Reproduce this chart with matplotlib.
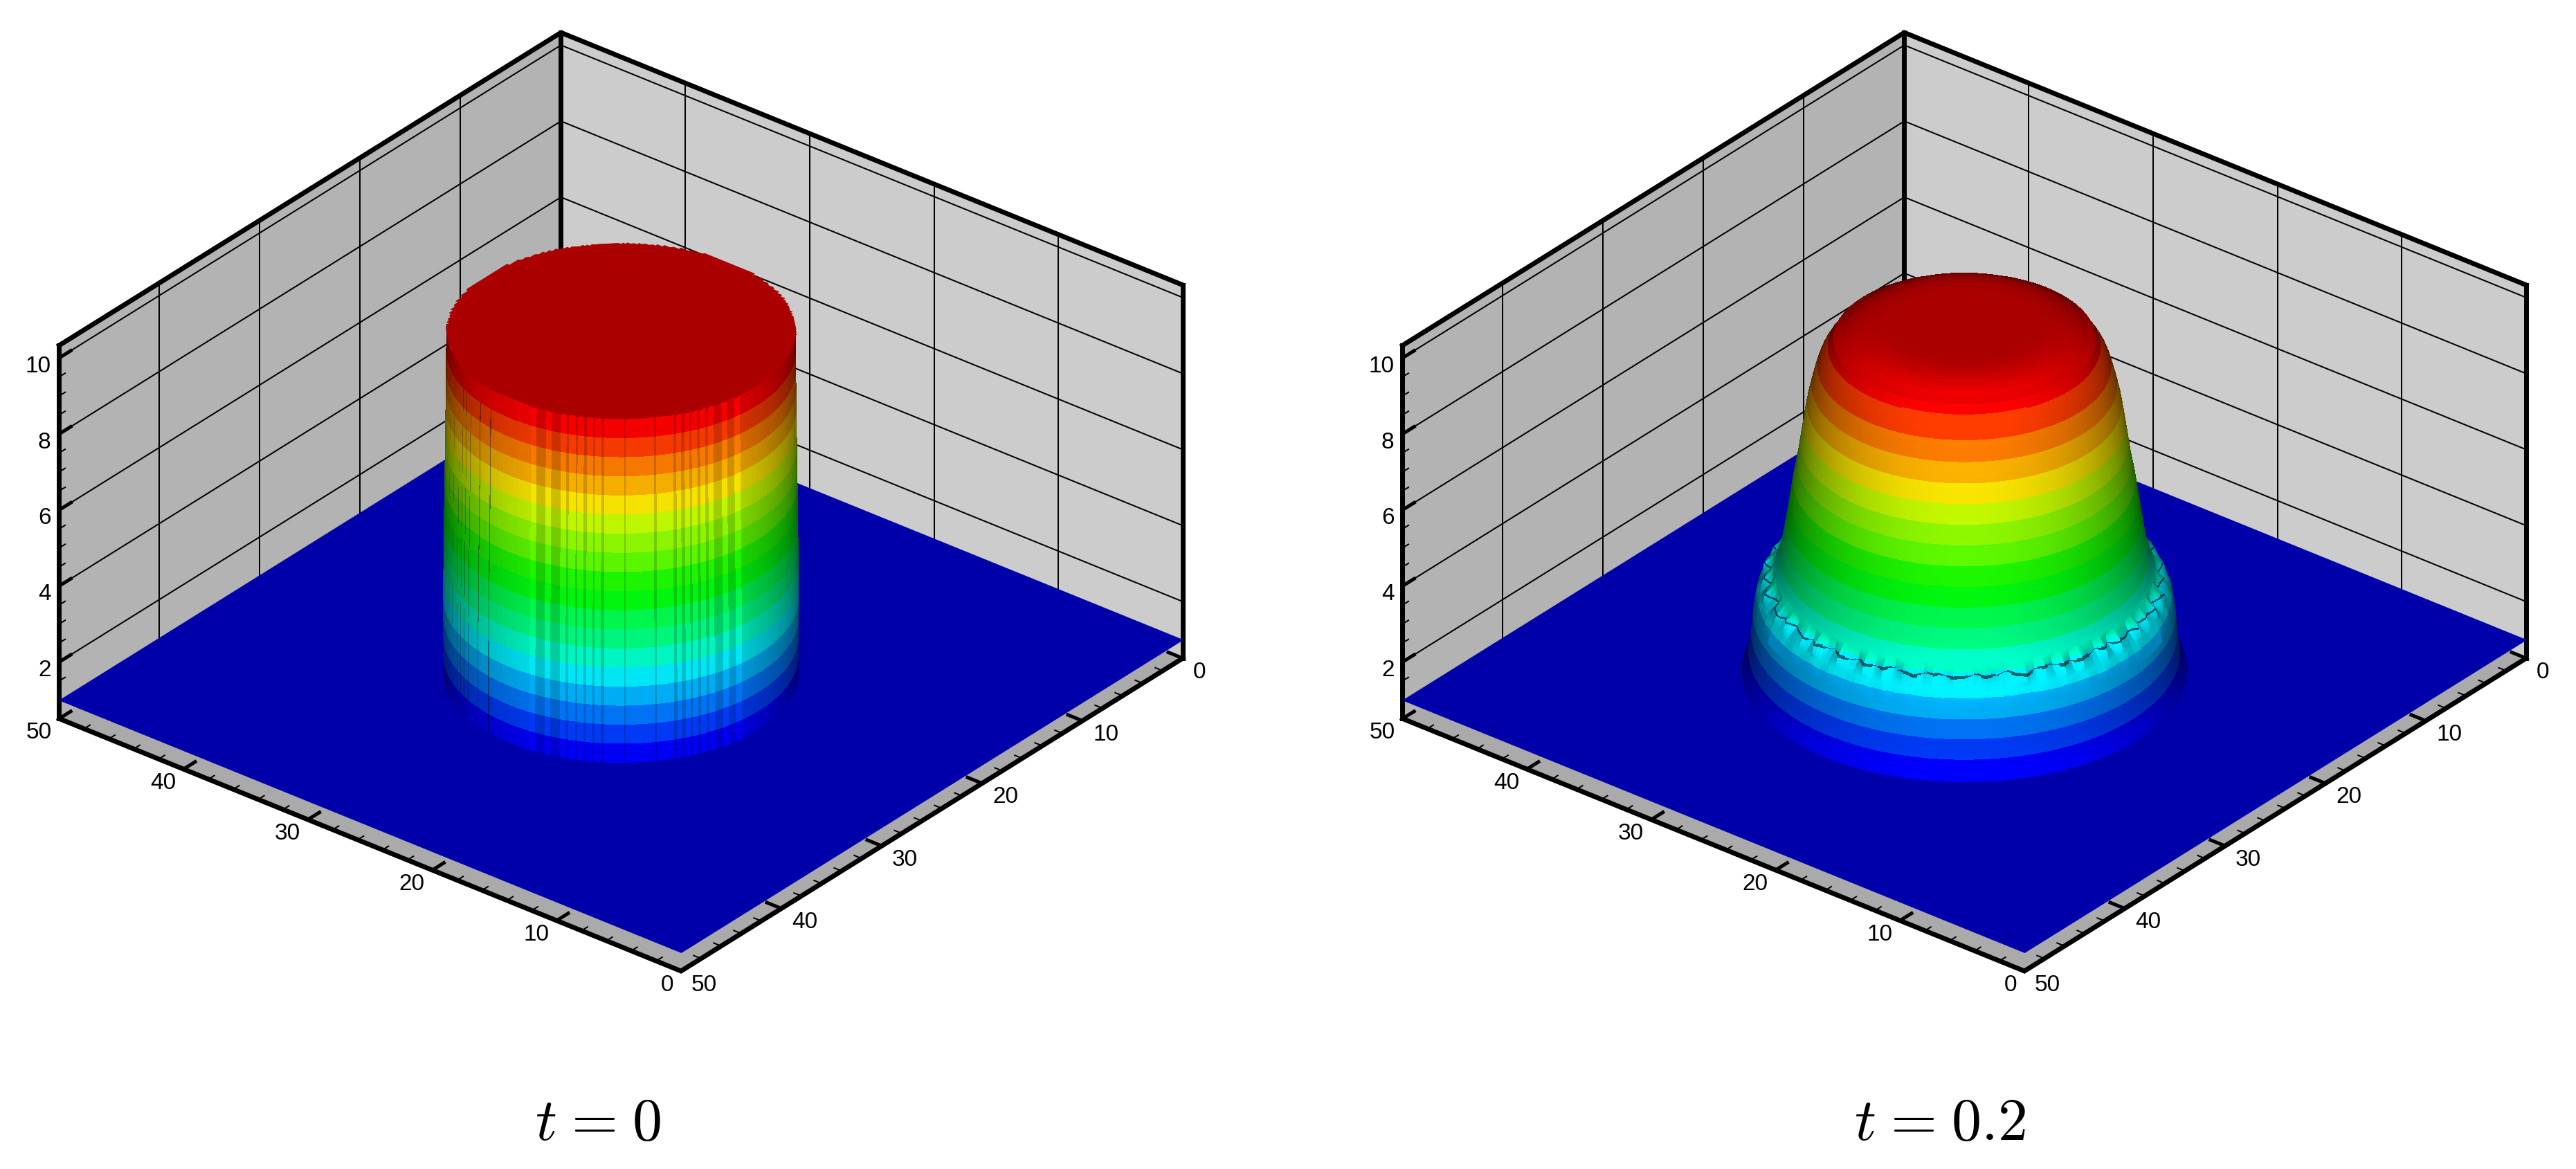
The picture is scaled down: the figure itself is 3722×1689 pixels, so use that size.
import matplotlib
matplotlib.use('Agg')
import matplotlib.pyplot as plt
import numpy as np
from mpl_toolkits.mplot3d import proj3d
from mpl_toolkits.mplot3d.art3d import Poly3DCollection

plt.rcParams['font.family'] = ['Liberation Sans', 'DejaVu Sans']
plt.rcParams['mathtext.fontset'] = 'cm'

W, H = 3723, 1689

# Axis ranges and ticks
X_MAJOR = [0, 10, 20, 30, 40, 50]
X_MINOR = [2, 4, 6, 8, 12, 14, 16, 18, 22, 24, 26, 28, 32, 34, 36, 38, 42, 44, 46, 48]
Z_MAJOR = [2, 4, 6, 8, 10]
Z_MINOR = [1.5, 2.5, 3, 3.5, 4.5, 5, 5.5, 6.5, 7, 7.5, 8.5, 9, 9.5]
Z_MIN, Z_MAX = 0.51, 10.33

# Colour bands from z=1 up to z=10, every 0.5
BAND_COLORS = [
    (0, 0, 255), (0, 60, 255), (0, 120, 255), (0, 180, 255), (0, 240, 255), (0, 255, 200),
    (0, 255, 130), (0, 255, 80), (0, 255, 15), (30, 255, 0), (95, 255, 0), (145, 255, 0),
    (200, 255, 0), (255, 235, 0), (255, 180, 0), (255, 125, 0), (255, 60, 0), (255, 0, 0),
]
BAND_Z = [1 + 0.5 * i for i in range(19)]

# t = 0: radius of the column against height
T0_Z = [1, 3, 5, 7, 9, 10]
T0_R = [11.1, 11.1, 11.05, 10.98, 10.92, 10.9]
T0_DROP = 0.08  # the column sits a little lower than the band levels
# lit strips on the front of the column, degrees from the viewer direction
STRIPE_START = [-30.8, -25.3, -20.0, -17.2, -14.2, -11.1, -8.4, -5.3, 1.3, 11.5, 18.3, 21.2, 23.7, 26.7, 29.7, 35.0, 40.2]
STRIPE_END = [-28.7, -23.3, -18.0, -14.8, -12.1, -9.0, -6.3, 0.8, 10.7, 17.2, 19.9, 22.9, 25.7, 28.6, 31.7, 37.2, 42.8]
# thin dark seams on the left of the column
SEAM_ANGLE = [-76.5, -71.6, -67.0, -64.3, -61.8, -59.0, -53.4, -48.0]
SEAM_ZLOW = [1.5, 2.0, 1.0, 1.5, 1.0, 1.5, 1.0, 1.0]
SEAM_ZHIGH = [9.5, 9.5, 7.5, 9.5, 9.5, 9.0, 9.5, 9.5]

# t = 0.2: radius of the dome against height
T2_Z = [1.0, 1.1, 1.5, 2, 2.5, 3, 3.3, 3.6, 4, 4.5, 5, 5.5, 6, 6.5, 7, 7.5, 8, 8.5, 9, 9.4, 9.7]
T2_R = [14.0, 13.75, 13.45, 13.3, 13.2, 13.0, 12.55, 11.9, 11.55, 11.3, 11.1, 10.9, 10.7, 10.45, 10.25, 10.05, 9.85, 9.55, 9.2, 8.75, 8.05]
T2_CAP_R = [7.7, 7.35, 7.0, 6.65, 6.3, 5.95, 5.6, 5.25, 4.9, 4.5, 2.5, 0.05]
T2_CAP_Z = [9.8, 9.88, 9.94, 9.986, 10.02, 10.045, 10.063, 10.074, 10.08, 10.085, 10.085, 10.085]
# ragged front where the shelf meets the dome, one value every 3 degrees (half a turn)
RING_WOBBLE = [
    0.10, -0.22, 0.28, -0.05, -0.32, 0.18, 0.34, -0.12, 0.05, -0.28, 0.22, -0.18, 0.30, 0.02, -0.25,
    0.15, -0.34, 0.26, 0.08, -0.14, 0.32, -0.24, 0.12, -0.06, 0.24, -0.30, 0.16, 0.36, -0.20, -0.02,
    0.20, -0.26, 0.06, 0.30, -0.16, -0.36, 0.14, 0.26, -0.08, 0.22, -0.30, 0.04, 0.18, -0.22, 0.34,
    -0.12, -0.28, 0.24, 0.02, -0.18, 0.30, -0.10, 0.20, -0.32, 0.12, 0.28, -0.24, 0.08, -0.16, 0.22,
]

ELEV, AZIM = 30.2, 128.9
Z_PHYS = 2.75  # one z unit against one x unit on screen
e, a = np.radians(ELEV), np.radians(AZIM)
VIEW = np.array([np.cos(a), np.sin(a)])
RIGHT = np.array([-np.sin(a), np.cos(a)])
LIGHT = np.array([np.cos(e) * VIEW[0], np.cos(e) * VIEW[1], np.sin(e)])


def rgb(color, shade):
    return tuple(np.clip(np.array(color) / 255.0 * shade, 0, 1)) + (1.0,)


def polar(r, phi, z):
    p = np.radians(phi)
    x = 25 + r * (np.cos(p) * VIEW[0] + np.sin(p) * RIGHT[0])
    y = 25 + r * (np.cos(p) * VIEW[1] + np.sin(p) * RIGHT[1])
    return x, y, z


def add_polys(ax, verts, colors, zorder):
    pc = Poly3DCollection(verts, facecolors=colors, edgecolors=colors, linewidths=0.5, antialiased=False, zsort='average')
    pc.set_zorder(zorder)
    ax.add_collection3d(pc)


def fit_axes(ax, front_px, right_px):
    # move the 3d axes so that the two lower corners land on the wanted pixels
    def corner(x, y, z):
        xp, yp, _ = proj3d.proj_transform(x, y, z, ax.get_proj())
        return ax.transData.transform((xp, yp))
    target_f = np.array([front_px[0], H - front_px[1]], float)
    target_r = np.array([right_px[0], H - right_px[1]], float)
    side = 1800.0
    left, bottom = front_px[0] - side / 2, H - front_px[1]
    for _ in range(3):
        ax.set_position([left / W, bottom / H, side / W, side / H])
        ax.apply_aspect()
        f, r = corner(0, 50, Z_MIN), corner(0, 0, Z_MIN)
        side *= np.linalg.norm(target_r - target_f) / np.linalg.norm(r - f)
        ax.set_position([left / W, bottom / H, side / W, side / H])
        ax.apply_aspect()
        f = corner(0, 50, Z_MIN)
        left += target_f[0] - f[0]
        bottom += target_f[1] - f[1]
    ax.set_position([left / W, bottom / H, side / W, side / H])


def draw_frame(ax):
    x0, x1 = 0, 50
    zb, zt = Z_MIN, Z_MAX
    add_polys(ax, [[(x1, x0, zb), (x1, x1, zb), (x1, x1, zt), (x1, x0, zt)]], ['#B3B3B3'], 1)
    add_polys(ax, [[(x0, x0, zb), (x1, x0, zb), (x1, x0, zt), (x0, x0, zt)]], ['#CCCCCC'], 1)
    add_polys(ax, [[(x0, x0, zb), (x1, x0, zb), (x1, x1, zb), (x0, x1, zb)]], ['#AAAAAA'], 1)
    grid = dict(color='black', lw=1.45, zorder=2)
    for t in X_MAJOR[1:-1]:
        ax.plot([x1, x1], [t, t], [zb, zt], **grid)
        ax.plot([t, t], [x0, x0], [zb, zt], **grid)
    for z in Z_MAJOR:
        ax.plot([x1, x1, x0], [x1, x0, x0], [z, z, z], **grid)
    heavy = dict(color='black', lw=5, zorder=3, solid_capstyle='projecting', solid_joinstyle='miter')
    ax.plot([x1, x1, x0], [x1, x0, x0], [zt, zt, zt], **heavy)
    ax.plot([x1, x1], [x0, x0], [zb, zt], **heavy)
    ax.plot([x1, x1], [x1, x1], [zb, zt], **heavy)
    ax.plot([x0, x0], [x0, x0], [zb, zt], **heavy)
    # z ticks lie on the left wall
    for z in Z_MAJOR:
        ax.plot([x1, x1], [x1, x1 - 1.3], [z, z], color='black', lw=3.6, zorder=3, solid_capstyle='butt')
    for z in Z_MINOR:
        ax.plot([x1, x1], [x1, x1 - 0.65], [z, z], color='black', lw=1.45, zorder=3, solid_capstyle='butt')
    # floor
    add_polys(ax, [[(x0, x0, 1), (x1, x0, 1), (x1, x1, 1), (x0, x1, 1)]], ['#0000AA'], 4)
    # bottom axes
    for t in X_MAJOR:
        ax.plot([t, t], [x1, x1 - 1.3], [zb, zb], color='black', lw=3.6, zorder=7, solid_capstyle='butt')
        ax.plot([x0, x0 + 1.3], [t, t], [zb, zb], color='black', lw=3.6, zorder=7, solid_capstyle='butt')
    for t in X_MINOR:
        ax.plot([t, t], [x1, x1 - 0.65], [zb, zb], color='black', lw=1.45, zorder=7, solid_capstyle='butt')
        ax.plot([x0, x0 + 0.65], [t, t], [zb, zb], color='black', lw=1.45, zorder=7, solid_capstyle='butt')
    ax.plot([x1, x0, x0], [x1, x1, x0], [zb, zb, zb], zorder=8, **{k: v for k, v in heavy.items() if k != 'zorder'})


def draw_labels(ax):
    M = ax.get_proj()

    def put(x, y, z, text, dx, dy, ha):
        xp, yp, _ = proj3d.proj_transform(x, y, z, M)
        ax.annotate(text, xy=(xp, yp), xycoords='data', xytext=(dx, dy), textcoords='offset pixels',
                    ha=ha, va='center', fontsize=24, color='black', annotation_clip=False, zorder=9)
    for z in Z_MAJOR:
        put(50, 50, z, str(z), -12, -12, 'right')
    for t in X_MAJOR:
        put(t, 50, Z_MIN, str(t), -11, -20, 'right')
        put(0, t, Z_MIN, str(t), 15, -20, 'left')


def draw_t0(ax):
    edges = sorted(set(np.arange(-94, 95, 2.0)) | set(STRIPE_START) | set(STRIPE_END)
                   | set(s - 0.2 for s in SEAM_ANGLE) | set(s + 0.2 for s in SEAM_ANGLE))
    verts, colors = [], []
    for k in range(len(BAND_COLORS)):
        z0, z1 = BAND_Z[k], BAND_Z[k + 1]
        r0, r1 = np.interp([z0, z1], T0_Z, T0_R)
        for p0, p1 in zip(edges[:-1], edges[1:]):
            mid = 0.5 * (p0 + p1)
            if STRIPE_START[0] <= mid <= STRIPE_END[-1]:
                lit = any(s <= mid <= t for s, t in zip(STRIPE_START, STRIPE_END))
                shade = 0.96 if lit else 0.80
            else:
                shade = 1.1 * (0.333 + 0.576 * max(np.cos(np.radians(mid)), 0))
            for s, lo, hi in zip(SEAM_ANGLE, SEAM_ZLOW, SEAM_ZHIGH):
                if abs(mid - s) < 0.2 and lo <= z0 and z1 <= hi:
                    shade = 0.45
            zl, zh = z0 - T0_DROP, z1 - T0_DROP
            verts.append([polar(r0, p0, zl), polar(r0, p1, zl), polar(r1, p1, zh), polar(r1, p0, zh)])
            colors.append(rgb(BAND_COLORS[k], shade))
    add_polys(ax, verts, colors, 5)
    # flat top, its rim slightly stepped
    ztop = 10.0 - T0_DROP
    ang = np.arange(0, 360, 0.5)
    tx, ty, _ = polar(T0_R[-1], ang, ztop)
    tx, ty = np.round(tx * 5) / 5, np.round(ty * 5) / 5
    rim = [(tx[0], ty[0], ztop)]
    for px, py in zip(tx[1:], ty[1:]):
        if (px, py) != rim[-1][:2]:
            rim.append((px, py, ztop))
    add_polys(ax, [rim], [rgb(BAND_COLORS[-1], 0.667)], 6)


def draw_t2(ax):
    dense = np.arange(1.0, 9.7001, 0.05)
    rad = np.interp(dense, T2_Z, T2_R)
    pad = np.pad(rad, 4, mode='edge')
    rad = np.convolve(pad, np.ones(9) / 9, mode='valid')
    zs = np.unique(np.round(np.concatenate([np.arange(1.0, 9.7001, 0.1), np.arange(3.0, 3.8, 0.02)]), 3))
    rs = np.interp(zs, dense, rad)
    zs = np.concatenate([zs, T2_CAP_Z])
    rs = np.concatenate([rs, T2_CAP_R])
    phis = np.arange(-180, 180.01, 1.0)
    P, ZZ = np.meshgrid(phis, zs)
    base_z = ZZ[:-1, :-1].copy()
    RR = np.tile(rs[:, None], (1, len(phis)))
    wob = np.interp(phis * 2, np.arange(0, 360, 6), RING_WOBBLE, period=360)
    wob2 = np.roll(wob, 7)
    # crumple the shelf around the shock
    w1 = np.clip(1 - np.abs(ZZ - 3.42) / 0.26, 0, 1)
    w2 = np.clip(1 - np.abs(ZZ - 3.05) / 0.3, 0, 1)
    RR = RR + w1 * wob + 0.1 * w2 * wob2
    ZZ = ZZ + 0.12 * w1 * wob2 + 0.05 * w2 * wob
    X, Y, _ = polar(RR, P, 0)
    # facet normals with the z scale of the box
    d1 = np.stack([X[1:, 1:] - X[:-1, :-1], Y[1:, 1:] - Y[:-1, :-1], (ZZ[1:, 1:] - ZZ[:-1, :-1]) * Z_PHYS], -1)
    d2 = np.stack([X[1:, :-1] - X[:-1, 1:], Y[1:, :-1] - Y[:-1, 1:], (ZZ[1:, :-1] - ZZ[:-1, 1:]) * Z_PHYS], -1)
    N = np.cross(d1, d2)
    N /= np.maximum(np.linalg.norm(N, axis=-1, keepdims=True), 1e-9)
    N = N * np.sign(N[..., 2:3] + 1e-9)
    lit = N @ LIGHT
    zmid = 0.25 * (ZZ[1:, 1:] + ZZ[:-1, :-1] + ZZ[1:, :-1] + ZZ[:-1, 1:])
    band = np.clip(np.floor((zmid - 1) / 0.5).astype(int), 0, 17)
    verts, colors = [], []
    for i in range(lit.shape[0]):
        for j in range(lit.shape[1]):
            if lit[i, j] < 0.03:
                continue
            shade = 0.305 + 0.72 * lit[i, j]
            shelf = 2.7 <= base_z[i, j] <= 3.7
            if shelf and abs(P[i, j]) < 70:
                shade = max(shade, 0.72)
            if 3.40 <= base_z[i, j] < 3.44:
                shade *= 0.42
            verts.append([(X[i, j], Y[i, j], ZZ[i, j]), (X[i, j + 1], Y[i, j + 1], ZZ[i, j + 1]),
                          (X[i + 1, j + 1], Y[i + 1, j + 1], ZZ[i + 1, j + 1]), (X[i + 1, j], Y[i + 1, j], ZZ[i + 1, j])])
            colors.append(rgb(BAND_COLORS[band[i, j]], shade))
    add_polys(ax, verts, colors, 5)


fig = plt.figure(figsize=(W / 100, H / 100), dpi=100, facecolor='white')

panels = [(draw_t0, 0, r'$t\hspace{0.08}=\hspace{0.08}0$', 864), (draw_t2, 1941, r'$t\hspace{0.08}=\hspace{0.08}0.2$', 2803)]
for draw_surface, shift, title, title_x in panels:
    ax = fig.add_axes([0, 0, 0.3, 0.3], projection='3d', computed_zorder=False)
    ax.set_proj_type('ortho')
    ax.view_init(elev=ELEV, azim=AZIM)
    ax.set_xlim(0, 50)
    ax.set_ylim(0, 50)
    ax.set_zlim(Z_MIN, Z_MAX)
    ax.set_box_aspect((1, 1, 0.5404))
    ax.set_axis_off()
    fit_axes(ax, (984 + shift, 1403), (1709 + shift, 951))
    draw_frame(ax)
    draw_surface(ax)
    draw_labels(ax)
    fig.text(title_x / W, 1 - 1647 / H, title, ha='center', va='baseline', fontsize=62, color='black')

fig.savefig('out.png', dpi=100, facecolor='white')
